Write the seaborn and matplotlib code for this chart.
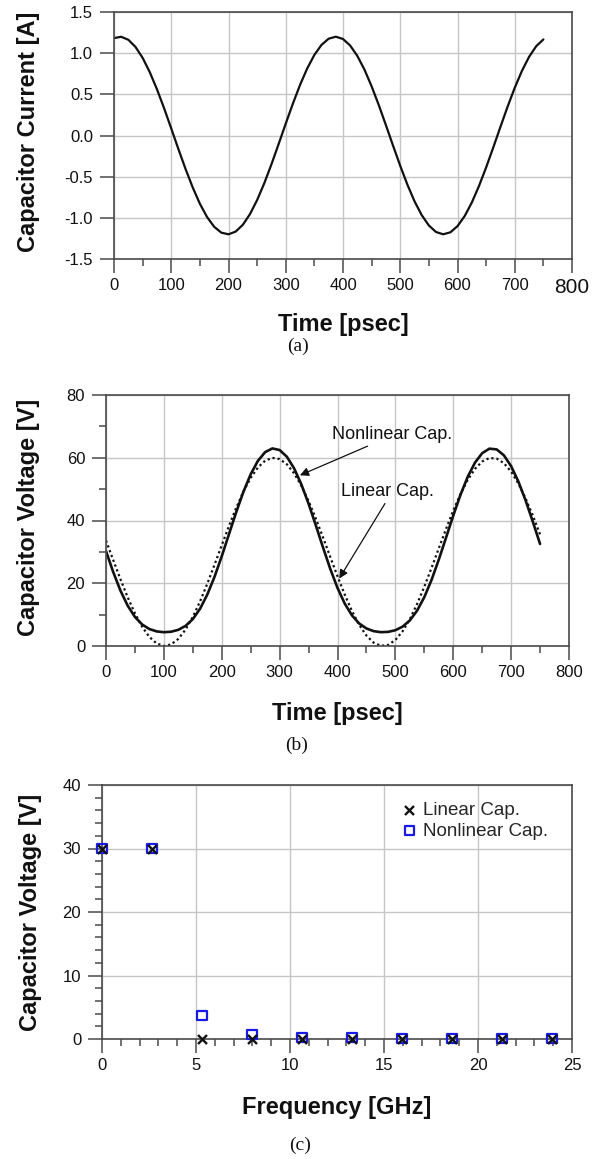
import numpy as np
import pandas as pd
import matplotlib
matplotlib.use("Agg")
import matplotlib.pyplot as plt
import seaborn as sns

# ---------------- data ----------------
time_ps = np.linspace(0, 750, 61)

current_A = [1.183, 1.199, 1.163, 1.076, 0.943, 0.769, 0.562, 0.331, 0.085, -0.165,
             -0.407, -0.631, -0.829, -0.990, -1.109, -1.180, -1.200, -1.167, -1.085, -0.955,
             -0.784, -0.580, -0.350, -0.105, 0.145, 0.388, 0.615, 0.815, 0.979, 1.101,
             1.176, 1.200, 1.172, 1.093, 0.967, 0.800, 0.597, 0.369, 0.125, -0.125,
             -0.369, -0.597, -0.800, -0.967, -1.093, -1.172, -1.200, -1.176, -1.101, -0.979,
             -0.814, -0.614, -0.388, -0.145, 0.105, 0.350, 0.580, 0.784, 0.955, 1.085,
             1.167]

v_linear = [33.61, 27.38, 21.26, 15.51, 10.39, 6.12, 2.88, 0.81, 0.01, 0.50,
            2.27, 5.24, 9.27, 14.21, 19.83, 25.89, 32.12, 38.27, 44.05, 49.23,
            53.58, 56.90, 59.07, 59.97, 59.58, 57.92, 55.04, 51.08, 46.21, 40.64,
            34.61, 28.37, 22.22, 16.39, 11.15, 6.74, 3.32, 1.06, 0.05, 0.34,
            1.91, 4.69, 8.56, 13.37, 18.90, 24.90, 31.13, 37.30, 43.16, 48.45,
            52.95, 56.45, 58.80, 59.92, 59.73, 58.27, 55.58, 51.78, 47.04, 41.57,
            35.59]

v_nonlinear = [30.27, 23.55, 17.64, 12.84, 9.26, 6.85, 5.40, 4.65, 4.40, 4.55,
               5.16, 6.42, 8.57, 11.86, 16.38, 22.05, 28.61, 35.65, 42.67, 49.18,
               54.74, 59.02, 61.80, 62.97, 62.46, 60.33, 56.62, 51.54, 45.36, 38.49,
               31.40, 24.58, 18.52, 13.52, 9.75, 7.17, 5.58, 4.73, 4.41, 4.50,
               5.03, 6.17, 8.16, 11.26, 15.58, 21.07, 27.52, 34.51, 41.57, 48.19,
               53.93, 58.43, 61.46, 62.90, 62.66, 60.77, 57.31, 52.43, 46.41, 39.62,
               32.52]

freq_GHz = [0, 2.66, 5.32, 7.98, 10.64, 13.3, 15.96, 18.62, 21.28, 23.94]
spec_linear = [30, 30, 0, 0, 0, 0, 0, 0, 0, 0]
spec_nonlinear = [30, 30, 3.7, 0.7, 0.25, 0.2, 0.05, 0.05, 0.05, 0.05]

time_ticks = [0, 100, 200, 300, 400, 500, 600, 700, 800]
cur_ticks = [-1.5, -1.0, -0.5, 0.0, 0.5, 1.0, 1.5]
cur_ticklabels = ["-1.5", "-1.0", "-0.5", "0.0", "0.5", "1.0", "1.5"]
volt_ticks = [0, 20, 40, 60, 80]
freq_ticks = [0, 5, 10, 15, 20, 25]
spec_ticks = [0, 10, 20, 30, 40]

df_a = pd.DataFrame({"t": time_ps, "i": current_A})
df_b = pd.DataFrame({"t": np.concatenate([time_ps, time_ps]),
                     "v": v_linear + v_nonlinear,
                     "cap": ["Linear Cap."] * len(time_ps) + ["Nonlinear Cap."] * len(time_ps)})
df_c = pd.DataFrame({"f": freq_GHz + freq_GHz,
                     "v": spec_linear + spec_nonlinear,
                     "cap": ["Linear Cap."] * len(freq_GHz) + ["Nonlinear Cap."] * len(freq_GHz)})

# ---------------- style ----------------
sns.set_theme(style="ticks")
plt.rcParams["font.family"] = ["Liberation Sans", "DejaVu Sans"]
plt.rcParams["axes.unicode_minus"] = False

W, H = 597, 1159
fig = plt.figure(figsize=(W / 100, H / 100), dpi=100)

def box(l, r, t, b):
    return [l / W, (H - b) / H, (r - l) / W, (b - t) / H]

ax_a = fig.add_axes(box(114, 572, 12, 259))
ax_b = fig.add_axes(box(106, 569, 395, 646))
ax_c = fig.add_axes(box(102, 572, 785, 1039))

SP = "#4a4a4a"
GRID = "#c6c6c6"

def style(ax):
    for s in ax.spines.values():
        s.set_color(SP)
        s.set_linewidth(1.2)
    ax.grid(True, which="major", color=GRID, lw=1.0)
    ax.set_axisbelow(True)
    ax.tick_params(which="major", direction="out", length=10, width=1.1, color=SP,
                   labelsize=12, labelcolor="#111111")
    ax.tick_params(axis="x", which="major", pad=3.5)
    ax.tick_params(axis="y", which="major", pad=5)
    ax.tick_params(which="minor", direction="out", length=4.7, width=1.1, color=SP)

lab_kw = dict(fontsize=17, fontweight="bold", color="#111111")

# ---------------- (a) ----------------
sns.lineplot(data=df_a, x="t", y="i", ax=ax_a, color="#111111", lw=1.6,
             errorbar=None, sort=False)
ax_a.set_xlim(0, 800)
ax_a.set_ylim(-1.5, 1.5)
ax_a.set_xticks(time_ticks)
ax_a.set_xticks([50, 150, 250, 350, 450, 550, 650, 750], minor=True)
ax_a.set_yticks(cur_ticks)
ax_a.set_yticklabels(cur_ticklabels)
style(ax_a)
ax_a.get_xticklabels()[-1].set_fontsize(15)
ax_a.set_xlabel("Time [psec]", **lab_kw)
ax_a.set_ylabel("Capacitor Current [A]", **lab_kw)
ax_a.xaxis.set_label_coords(0.5, -0.267)
ax_a.xaxis.label.set_va("center")
ax_a.yaxis.set_label_coords(-0.187, 0.516)
ax_a.yaxis.label.set_va("center")

# ---------------- (b) ----------------
sns.lineplot(data=df_b, x="t", y="v", hue="cap", style="cap", ax=ax_b,
             palette={"Linear Cap.": "#111111", "Nonlinear Cap.": "#111111"},
             dashes={"Linear Cap.": (1, 1.3), "Nonlinear Cap.": ""},
             size="cap", sizes={"Linear Cap.": 1.6, "Nonlinear Cap.": 1.9},
             errorbar=None, sort=False, legend=False)
ax_b.set_xlim(0, 800)
ax_b.set_ylim(0, 80)
ax_b.set_xticks(time_ticks)
ax_b.set_xticks([50, 150, 250, 350, 450, 550, 650, 750], minor=True)
ax_b.set_yticks(volt_ticks)
ax_b.set_yticks([10, 30, 50, 70], minor=True)
style(ax_b)
ax_b.set_xlabel("Time [psec]", **lab_kw)
ax_b.set_ylabel("Capacitor Voltage [V]", **lab_kw)
ax_b.xaxis.set_label_coords(0.5, -0.267)
ax_b.xaxis.label.set_va("center")
ax_b.yaxis.set_label_coords(-0.167, 0.512)
ax_b.yaxis.label.set_va("center")

arrow_kw = dict(arrowstyle="-|>", color="#111111", lw=0.9, mutation_scale=13,
                shrinkA=0, shrinkB=0)
ax_b.text(495, 67.4, "Nonlinear Cap.", fontsize=13, ha="center", va="center", color="#111111")
ax_b.annotate("", xy=(335, 54.4), xytext=(452, 63.7), arrowprops=arrow_kw)
ax_b.text(486, 49.2, "Linear Cap.", fontsize=13, ha="center", va="center", color="#111111")
ax_b.annotate("", xy=(403, 21.5), xytext=(482, 45.4), arrowprops=arrow_kw)

# ---------------- (c) ----------------
sns.scatterplot(data=df_c[df_c.cap == "Nonlinear Cap."], x="f", y="v", ax=ax_c,
                marker="s", s=46, facecolor="none", edgecolor="#1a1ae6",
                linewidth=1.6, zorder=4, clip_on=False, label="Nonlinear Cap.")
sns.scatterplot(data=df_c[df_c.cap == "Linear Cap."], x="f", y="v", ax=ax_c,
                marker="x", s=42, color="#111111", linewidth=1.7, zorder=5,
                clip_on=False, label="Linear Cap.")
ax_c.set_xlim(0, 25)
ax_c.set_ylim(0, 40)
ax_c.set_xticks(freq_ticks)
ax_c.set_xticks([v for v in range(1, 25) if v % 5], minor=True)
ax_c.set_yticks(spec_ticks)
ax_c.set_yticks([v for v in range(2, 40, 2) if v % 10], minor=True)
style(ax_c)
ax_c.set_xlabel("Frequency [GHz]", **lab_kw)
ax_c.set_ylabel("Capacitor Voltage [V]", **lab_kw)
ax_c.xaxis.set_label_coords(0.5, -0.268)
ax_c.xaxis.label.set_va("center")
ax_c.yaxis.set_label_coords(-0.152, 0.498)
ax_c.yaxis.label.set_va("center")

handles, labels = ax_c.get_legend_handles_labels()
order = [labels.index("Linear Cap."), labels.index("Nonlinear Cap.")]
ax_c.legend([handles[i] for i in order], [labels[i] for i in order],
            loc="upper left", bbox_to_anchor=(0.638, 0.935), frameon=False,
            fontsize=13.5, handlelength=0.8, handletextpad=0.35, labelspacing=0.2,
            borderpad=0, borderaxespad=0)

# ---------------- captions ----------------
cap_kw = dict(family=["Liberation Serif", "DejaVu Serif"], fontsize=14,
              ha="center", va="center", color="#111111")
fig.text(298 / W, 1 - 346 / H, "(a)", **cap_kw)
fig.text(297 / W, 1 - 745 / H, "(b)", **cap_kw)
fig.text(300 / W, 1 - 1145 / H, "(c)", **cap_kw)

fig.savefig("out.png", dpi=100)
